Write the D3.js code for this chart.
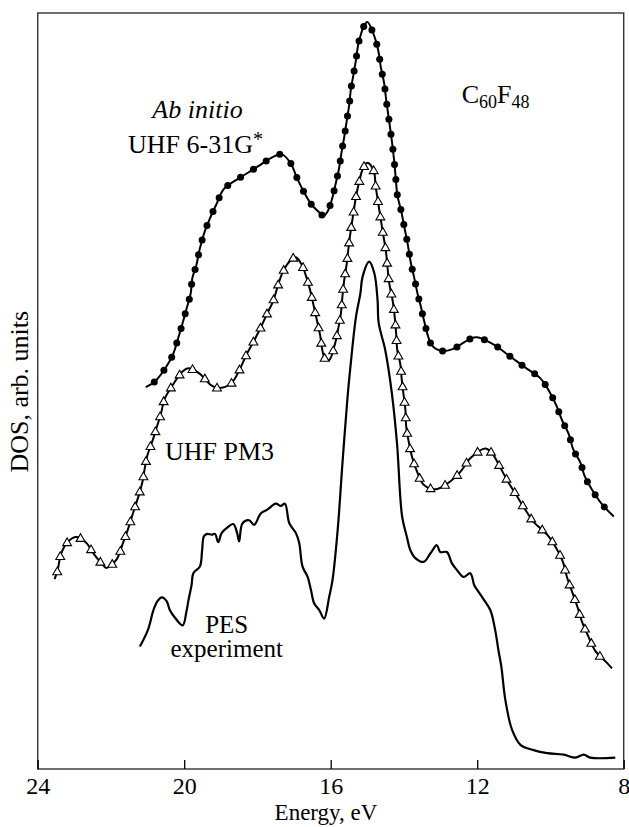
<!DOCTYPE html>
<html>
<head>
<meta charset="utf-8">
<script src="https://cdn.jsdelivr.net/npm/d3@7/dist/d3.min.js"></script>
<style>
  html, body { margin: 0; padding: 0; background: #fff; }
</style>
</head>
<body>
<svg id="chart" width="629" height="827"></svg>
<script>
// ---------- data (energy in eV, DOS in arbitrary units 0..100) ----------
const xTicks = [24, 20, 16, 12, 8];

const abInitioE = [21.05,20.79,20.49,20.30,20.17,20.06,19.94,19.82,19.78,19.67,19.58,19.46,19.30,19.12,18.92,18.52,18.25,17.99,17.56,17.33,17.09,16.93,16.75,16.53,16.26,16.20,16.09,15.97,15.86,15.77,15.70,15.63,15.56,15.49,15.45,15.38,15.31,15.25,15.18,15.10,15.00,14.83,14.70,14.63,14.54,14.49,14.43,14.37,14.31,14.26,14.22,14.18,14.08,13.99,13.90,13.81,13.72,13.63,13.54,13.45,13.23,12.96,12.69,12.19,12.01,11.57,11.16,10.69,10.28,10.05,9.84,9.68,9.50,9.38,9.18,9.07,8.86,8.59,8.27];
const abInitioD = [50.5,51.3,53.2,54.9,56.9,58.7,60.8,63.0,64.9,66.6,68.7,70.8,72.8,74.7,76.7,78.1,78.9,79.7,81.0,81.3,80.1,78.3,76.5,74.7,73.4,73.1,73.7,75.3,77.5,79.5,81.7,83.6,85.8,88.0,89.9,91.8,93.8,95.8,97.1,98.2,98.8,97.2,95.0,92.8,90.7,88.7,86.6,84.5,82.3,80.1,77.9,75.9,73.9,71.7,69.5,66.9,65.0,62.9,61.2,59.3,56.0,55.3,55.5,56.9,57.1,56.2,54.8,53.1,51.7,50.1,48.1,46.1,44.3,42.3,40.5,38.8,36.9,35.0,33.4];

const pm3E = [23.54,23.46,23.36,23.17,22.95,22.69,22.46,22.22,22.13,21.85,21.67,21.53,21.40,21.26,21.14,21.08,21.01,20.86,20.75,20.63,20.54,20.30,20.04,19.89,19.58,19.25,19.07,18.72,18.49,18.31,18.11,17.91,17.74,17.58,17.33,17.13,16.95,16.77,16.68,16.61,16.54,16.48,16.42,16.36,16.29,16.16,16.04,15.89,15.80,15.72,15.68,15.63,15.56,15.51,15.45,15.38,15.31,15.22,15.13,15.00,14.83,14.77,14.70,14.63,14.56,14.49,14.45,14.40,14.31,14.25,14.21,14.18,14.10,14.06,14.01,13.96,13.94,13.87,13.78,13.64,13.46,13.14,12.83,12.46,12.19,11.78,11.60,11.34,11.16,10.94,10.70,10.46,10.09,9.84,9.66,9.55,9.39,9.26,9.14,8.98,8.77,8.45,8.32];
const pm3D = [25.1,26.2,28.5,30.1,30.7,30.0,28.4,27.0,26.6,27.7,29.9,31.8,33.8,35.9,38.0,39.7,41.4,43.5,45.2,47.1,48.9,50.9,52.6,53.0,52.3,50.7,50.4,51.0,52.8,54.7,56.5,58.4,60.2,61.8,65.5,67.1,67.7,66.5,65.3,64.2,62.9,61.6,60.3,59.0,57.4,54.3,54.1,56.1,58.1,60.3,62.5,64.7,66.9,69.1,71.3,73.5,75.7,77.7,79.3,80.2,79.2,77.0,74.8,72.6,70.5,68.4,66.4,64.2,62.0,59.7,57.4,55.3,53.6,51.5,49.5,47.5,45.4,43.3,41.3,39.3,37.6,37.0,37.7,39.3,41.1,42.4,41.8,39.6,38.0,36.3,34.4,32.7,31.0,29.2,27.4,25.4,23.2,21.4,19.5,17.7,15.6,14.0,13.3];

const pesE = [21.21,20.99,20.84,20.73,20.61,20.48,20.39,20.25,20.04,19.94,19.88,19.80,19.75,19.57,19.51,19.46,19.37,19.25,19.16,19.07,18.98,18.83,18.66,18.56,18.50,18.41,18.23,18.09,17.91,17.73,17.50,17.36,17.25,17.13,16.95,16.86,16.77,16.63,16.54,16.45,16.31,16.18,16.04,15.95,15.81,15.68,15.54,15.47,15.31,15.19,15.13,14.95,14.81,14.72,14.69,14.51,14.33,14.19,14.05,13.92,13.83,13.69,13.46,13.28,13.10,13.01,12.83,12.69,12.55,12.37,12.19,12.08,12.00,11.82,11.64,11.51,11.42,11.34,11.23,11.05,10.82,10.46,10.09,9.64,9.32,9.09,8.91,8.23];
const pesD = [16.2,18.4,21.0,22.2,22.7,22.2,21.0,20.0,19.0,20.8,22.4,24.3,25.9,26.8,29.0,30.8,31.1,31.0,31.1,30.0,31.2,31.9,32.4,31.3,30.1,32.5,32.9,32.3,33.8,34.3,35.1,34.8,35.1,32.5,31.2,29.9,26.8,25.4,23.7,21.9,21.0,19.9,22.8,25.0,31.6,40.4,49.2,52.8,59.8,62.9,65.1,67.1,65.6,62.0,59.0,55.4,49.7,43.1,33.4,30.7,29.0,27.9,27.4,28.5,29.6,28.7,28.7,27.2,26.3,25.4,25.9,24.3,23.7,22.4,21.0,18.4,15.7,13.5,9.1,5.2,3.2,2.5,2.1,1.9,1.5,1.9,1.5,1.5];

// ---------- layout ----------
const FONT = "'Liberation Serif', 'Times New Roman', Times, 'DejaVu Serif', serif";
const svg = d3.select("#chart").attr("font-family", FONT);
const L = 37.7, R = 623.7, T = 13, B = 769;

const x = d3.scaleLinear().domain([24, 8]).range([L, R]);
const y = d3.scaleLinear().domain([0, 100]).range([B, T]);

// frame
svg.append("rect")
  .attr("x", L).attr("y", T).attr("width", R - L).attr("height", B - T)
  .attr("fill", "none").attr("stroke", "#333").attr("stroke-width", 1.4);

// bottom axis with inward ticks
const ax = svg.append("g").attr("transform", `translate(0,${B})`)
  .call(d3.axisBottom(x).tickValues(xTicks).tickFormat(d3.format("d"))
        .tickSizeInner(-9).tickSizeOuter(0).tickPadding(8));
ax.attr("font-family", FONT).attr("font-size", 24);
ax.select(".domain").remove();
ax.selectAll(".tick line").attr("stroke", "#000").attr("stroke-width", 1.3);
ax.selectAll(".tick text").attr("font-size", 24).attr("font-family", FONT).attr("fill", "#000");

// curves
const line = d3.line().x(d => x(d[0])).y(d => y(d[1])).curve(d3.curveCatmullRom.alpha(0.5));
const zipped = (a, b) => a.map((v, i) => [v, b[i]]);

function drawSeries(data, width) {
  return svg.append("path").datum(data)
    .attr("d", line).attr("fill", "none")
    .attr("stroke", "#000").attr("stroke-width", width)
    .attr("stroke-linejoin", "round");
}

const pAb = drawSeries(zipped(abInitioE, abInitioD), 2);
const pPm = drawSeries(zipped(pm3E, pm3D), 2);
const pPes = drawSeries(zipped(pesE, pesD), 2.2);

function markerPoints(path, start, step) {
  const node = path.node();
  const len = node.getTotalLength();
  const pts = [];
  for (let s = start; s <= len - 2; s += step) {
    const p = node.getPointAtLength(s);
    pts.push([p.x, p.y]);
  }
  return pts;
}

// filled circles
svg.append("g").selectAll("circle")
  .data(markerPoints(pAb, 10, 15.2)).join("circle")
  .attr("cx", d => d[0]).attr("cy", d => d[1]).attr("r", 3.5).attr("fill", "#000");

// open triangles
svg.append("g").selectAll("path")
  .data(markerPoints(pPm, 8, 15.6)).join("path")
  .attr("transform", d => `translate(${d[0]},${d[1] + 0.5})`)
  .attr("d", d3.symbol().type(d3.symbolTriangle).size(34))
  .attr("fill", "#fff").attr("stroke", "#000").attr("stroke-width", 1.1);

// ---------- labels ----------
function label(xp, yp, size, anchor) {
  return svg.append("text").attr("x", xp).attr("y", yp)
    .attr("font-family", FONT).attr("font-size", size)
    .attr("text-anchor", anchor || "start").attr("fill", "#000");
}

label(197.5, 118, 26, "middle").attr("font-style", "italic").text("Ab initio");

const t2 = label(128, 152.5, 26);
t2.append("tspan").text("UHF 6-31G");
t2.append("tspan").attr("font-size", 20).attr("dy", -7).text("*");

const t3 = label(461.7, 102.7, 26);
t3.append("tspan").text("C");
t3.append("tspan").attr("font-size", 18).attr("dy", 5).text("60");
t3.append("tspan").attr("dy", -5).text("F");
t3.append("tspan").attr("font-size", 18).attr("dy", 5).text("48");

label(165, 460, 26).text("UHF PM3");

label(226.7, 632.5, 25, "middle").text("PES");
label(226.7, 657.3, 25, "middle").text("experiment");

label(326, 820, 23, "middle").text("Energy, eV");

svg.append("text").attr("transform", "translate(28,391.7) rotate(-90)")
  .attr("font-family", FONT).attr("fill", "#000")
  .attr("text-anchor", "middle").attr("font-size", 26).text("DOS, arb. units");
</script>
</body>
</html>
